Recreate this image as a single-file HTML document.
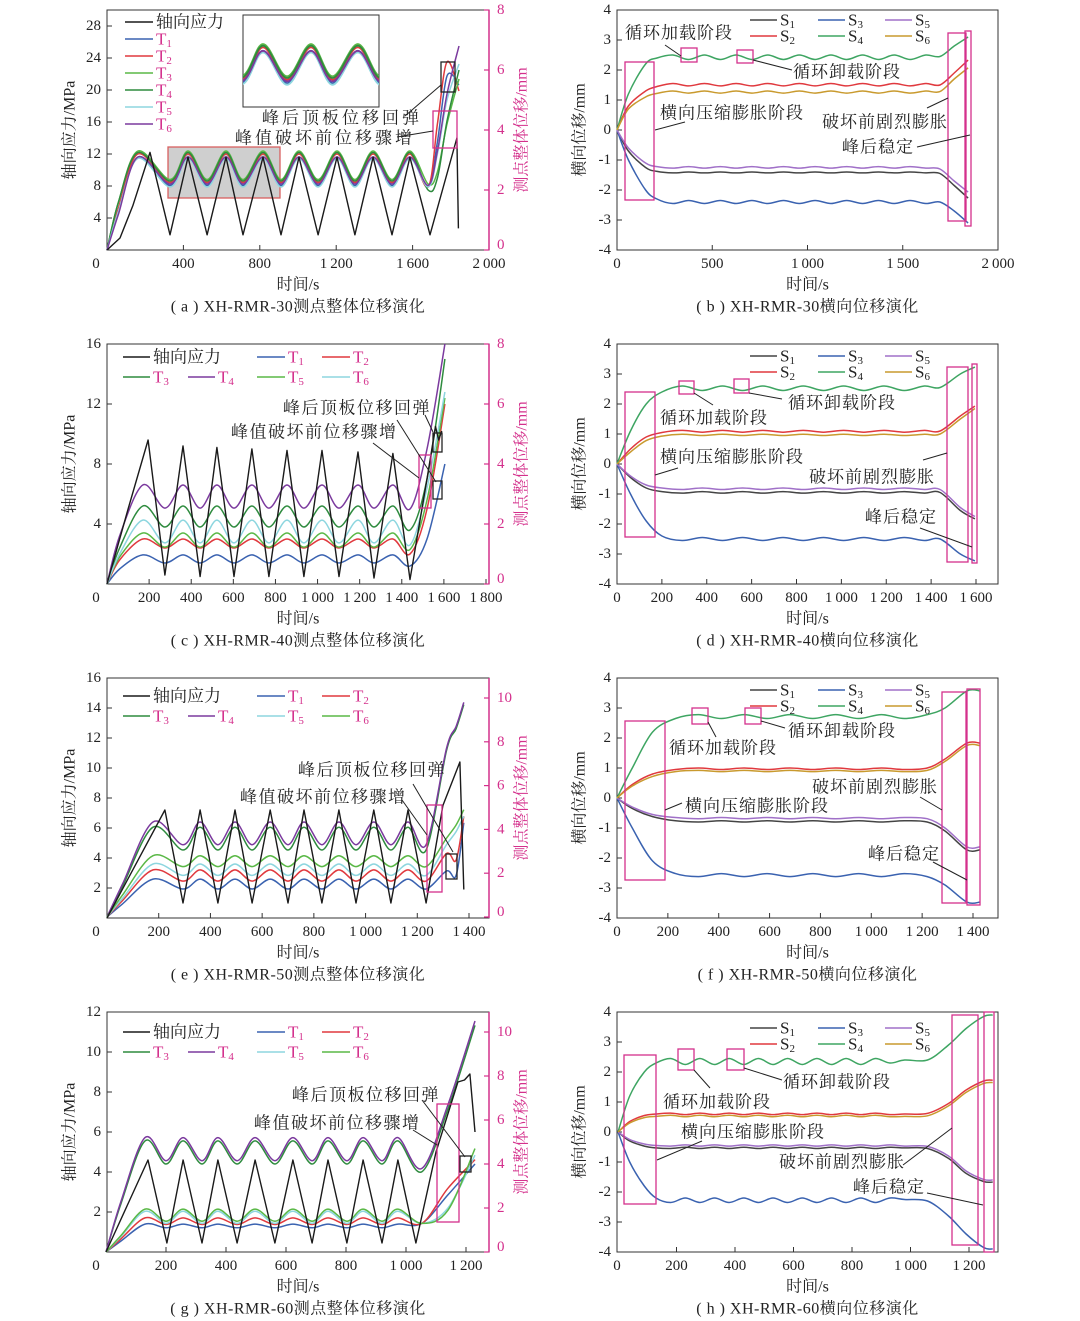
<!DOCTYPE html>
<html><head><meta charset="utf-8"><title>XH-RMR displacement evolution</title>
<style>
html,body{margin:0;padding:0;background:#fff;}
svg{display:block;font-family:"Liberation Serif","Noto Serif CJK SC",serif;}
</style></head>
<body>
<svg id="fig" width="1080" height="1321" viewBox="0 0 1080 1321" xmlns="http://www.w3.org/2000/svg">
<rect x="0" y="0" width="1080" height="1321" fill="#fff"/>
</svg>
<script>
// ---------- Panel (a) data ----------
const aStressT=[0,68,136,225,330,424,524,623,712,817,911,1005,1105,1204,1298,1393,1492,1586,1691,1832,1840];
const aStressV=[0,1.5,5.6,12.2,1.9,11.6,1.9,11.6,1.9,11.6,1.9,11.6,1.9,11.6,1.9,11.6,1.9,11.6,1.9,14,2.7];
const aDispT=[0,60,162,330,424,524,623,712,817,911,1005,1105,1204,1298,1393,1492,1586,1681,1730,1780,1843];
const aT1=[0,1.3,3.1,2.15,3.1,2.15,3.1,2.15,3.1,2.15,3.1,2.15,3.1,2.15,3.1,2.15,3.1,2.1,3.6,5.8,5.5];
const aT2=[0,1.4,3.2,2.25,3.2,2.25,3.2,2.25,3.2,2.25,3.2,2.25,3.2,2.25,3.2,2.25,3.2,2.1,4.2,6.27,5.3];
const aT3=[0,1.6,3.3,2.35,3.3,2.35,3.3,2.35,3.3,2.35,3.3,2.35,3.3,2.35,3.3,2.35,3.3,2.2,2.6,4.2,5.7];
const aT4=[0,1.6,3.25,2.3,3.25,2.3,3.25,2.3,3.25,2.3,3.25,2.3,3.25,2.3,3.25,2.3,3.25,2.0,2.4,4.3,6.0];
const aT5=[0,1.3,3.05,2.1,3.05,2.1,3.05,2.1,3.05,2.1,3.05,2.1,3.05,2.1,3.05,2.1,3.05,2.1,3.2,5.0,6.2];
const aT6=[0,1.2,3.1,2.2,3.1,2.2,3.1,2.2,3.1,2.2,3.1,2.2,3.1,2.2,3.1,2.2,3.1,2.15,3.3,5.2,6.8];
// ---------- Panel (c) data ----------
const cStressT=[0,100,195,275,361,442,522,603,688,769,855,935,1021,1102,1192,1268,1358,1439,1520,1560,1575,1590];
const cStressV=[0,5,9.6,0.6,9.2,0.5,9.1,0.5,9.0,0.5,8.9,0.5,8.9,0.5,8.8,0.4,8.7,0.3,7,10.5,9.6,10.2];
const cDispT=[0,60,170,275,361,442,522,603,688,769,855,935,1021,1102,1192,1268,1358,1439,1520,1605];
const cT1=[0,0.5,0.97,0.7,0.97,0.7,0.97,0.7,0.97,0.7,0.97,0.7,0.97,0.7,0.97,0.7,0.97,0.6,1.5,4.0];
const cT2=[0,0.8,1.5,1.2,1.5,1.2,1.5,1.2,1.5,1.2,1.5,1.2,1.5,1.2,1.5,1.2,1.5,1.0,2.5,6.0];
const cT3=[0,1.2,2.6,1.9,2.6,1.9,2.6,1.9,2.6,1.9,2.6,1.9,2.6,1.9,2.6,1.9,2.6,1.8,3.5,7.5];
const cT4=[0,1.6,3.3,2.53,3.3,2.53,3.3,2.53,3.3,2.53,3.3,2.53,3.3,2.53,3.3,2.53,3.3,2.5,4.5,8.0];
const cT5=[0,0.9,1.7,1.23,1.7,1.23,1.7,1.23,1.7,1.23,1.7,1.23,1.7,1.23,1.7,1.23,1.7,1.15,2.8,6.2];
const cT6=[0,1.0,2.13,1.37,2.13,1.37,2.13,1.37,2.13,1.37,2.13,1.37,2.13,1.37,2.13,1.37,2.13,1.3,3.2,6.4];
// ---------- Panel (e) data ----------
const eStressT=[0,224,294,360,429,495,561,631,700,762,831,897,963,1032,1098,1164,1234,1299,1365,1380];
const eStressV=[0,7.2,1.0,7.2,1.0,7.2,1.0,7.2,1.0,7.2,1.0,7.2,1.0,7.2,1.0,7.2,1.0,7.5,10.4,1.9];
const eDispT=[0,60,178,294,360,429,495,561,631,700,762,831,897,963,1032,1098,1164,1234,1313,1350,1380];
const eT1=[0,0.6,1.73,1.28,1.73,1.28,1.73,1.28,1.73,1.28,1.73,1.28,1.73,1.28,1.73,1.28,1.73,1.28,2.1,1.9,4.3];
const eT2=[0,0.75,2.15,1.64,2.15,1.64,2.15,1.64,2.15,1.64,2.15,1.64,2.15,1.64,2.15,1.64,2.15,1.64,2.9,2.6,4.6];
const eT3=[0,1.4,4.1,3.06,4.1,3.06,4.1,3.06,4.1,3.06,4.1,3.06,4.1,3.06,4.1,3.06,4.1,3.06,7.6,8.6,9.7];
const eT4=[0,1.5,4.34,3.3,4.34,3.3,4.34,3.3,4.34,3.3,4.34,3.3,4.34,3.3,4.34,3.3,4.34,3.3,7.7,8.7,9.8];
const eT5=[0,0.85,2.42,1.9,2.42,1.9,2.42,1.9,2.42,1.9,2.42,1.9,2.42,1.9,2.42,1.9,2.42,1.9,3.3,3.9,4.6];
const eT6=[0,1.0,2.8,2.3,2.8,2.3,2.8,2.3,2.8,2.3,2.8,2.3,2.8,2.3,2.8,2.3,2.8,2.3,3.6,4.2,4.9];
// ---------- Panel (g) data ----------
const gStressT=[0,140,203,257,320,373,437,497,563,623,687,740,803,857,920,973,1033,1100,1173,1195,1213,1230];
const gStressV=[0,4.6,0.45,4.6,0.45,4.6,0.45,4.6,0.45,4.6,0.45,4.6,0.45,4.6,0.45,4.6,0.45,5.0,8.5,8.6,8.9,6.0];
const gDispT=[0,50,130,200,257,320,373,437,497,563,623,687,740,803,857,920,973,1053,1140,1230];
const gT1=[0,0.5,1.27,1.1,1.27,1.1,1.27,1.1,1.27,1.1,1.27,1.1,1.27,1.1,1.27,1.1,1.27,1.3,2.6,4.0];
const gT2=[0,0.6,1.55,1.25,1.55,1.25,1.55,1.25,1.55,1.25,1.55,1.25,1.55,1.25,1.55,1.25,1.55,1.3,2.9,4.2];
const gT3=[0,2.2,5.05,4.0,5.05,4.0,5.05,4.0,5.05,4.0,5.05,4.0,5.05,4.0,5.05,4.0,5.05,3.65,6.5,10.3];
const gT4=[0,2.3,5.2,4.15,5.2,4.15,5.2,4.15,5.2,4.15,5.2,4.15,5.2,4.15,5.2,4.15,5.2,3.8,6.7,10.5];
const gT5=[0,0.7,1.85,1.3,1.85,1.3,1.85,1.3,1.85,1.3,1.85,1.3,1.85,1.3,1.85,1.3,1.85,1.3,2.0,4.4];
const gT6=[0,0.75,1.95,1.4,1.95,1.4,1.95,1.4,1.95,1.4,1.95,1.4,1.95,1.4,1.95,1.4,1.95,1.3,1.9,4.7];
// ---------- Panel (b) data ----------
const bT=[0,60,150,210,293,376,459,542,625,708,791,874,957,1040,1123,1206,1289,1372,1455,1538,1621,1695,1770,1843];
const bS1=[0,-0.7,-1.25,-1.38,-1.43,-1.4,-1.43,-1.4,-1.43,-1.4,-1.43,-1.4,-1.43,-1.4,-1.43,-1.4,-1.43,-1.4,-1.43,-1.4,-1.43,-1.45,-1.85,-2.27];
const bS2=[0,0.8,1.3,1.45,1.55,1.47,1.55,1.47,1.55,1.47,1.55,1.47,1.55,1.47,1.55,1.47,1.55,1.47,1.55,1.47,1.55,1.5,1.9,2.33];
const bS3=[0,-1.0,-2.0,-2.3,-2.45,-2.35,-2.45,-2.35,-2.45,-2.35,-2.45,-2.35,-2.45,-2.35,-2.45,-2.35,-2.45,-2.35,-2.45,-2.35,-2.45,-2.4,-2.7,-3.1];
const bS4=[0,1.2,2.2,2.4,2.5,2.35,2.5,2.35,2.5,2.35,2.5,2.35,2.5,2.35,2.5,2.35,2.5,2.35,2.5,2.35,2.5,2.45,2.8,3.1];
const bS5=[0,-0.6,-1.1,-1.22,-1.27,-1.22,-1.27,-1.22,-1.27,-1.22,-1.27,-1.22,-1.27,-1.22,-1.27,-1.22,-1.27,-1.22,-1.27,-1.22,-1.27,-1.3,-1.7,-2.07];
const bS6=[0,0.7,1.1,1.22,1.3,1.23,1.3,1.23,1.3,1.23,1.3,1.23,1.3,1.23,1.3,1.23,1.3,1.23,1.3,1.23,1.3,1.28,1.7,2.07];
// ---------- Panel (d) data ----------
const dT=[0,60,130,200,290,380,470,560,650,740,830,920,1010,1100,1190,1280,1370,1440,1530,1595];
const dS1=[0,-0.45,-0.8,-0.92,-0.97,-0.92,-0.97,-0.92,-0.97,-0.92,-0.97,-0.92,-0.97,-0.92,-0.97,-0.92,-0.97,-0.95,-1.55,-1.83];
const dS2=[0,0.5,0.9,1.05,1.12,1.06,1.12,1.06,1.12,1.06,1.12,1.06,1.12,1.06,1.12,1.06,1.12,1.1,1.6,1.93];
const dS3=[0,-1.0,-1.9,-2.4,-2.55,-2.45,-2.55,-2.45,-2.55,-2.45,-2.55,-2.45,-2.55,-2.45,-2.55,-2.45,-2.55,-2.5,-3.0,-3.23];
const dS4=[0,1.1,2.0,2.4,2.6,2.45,2.6,2.45,2.6,2.45,2.6,2.45,2.6,2.45,2.6,2.45,2.6,2.55,3.0,3.23];
const dS5=[0,-0.4,-0.7,-0.8,-0.85,-0.8,-0.85,-0.8,-0.85,-0.8,-0.85,-0.8,-0.85,-0.8,-0.85,-0.8,-0.85,-0.85,-1.45,-1.75];
const dS6=[0,0.4,0.78,0.93,0.99,0.95,0.99,0.95,0.99,0.95,0.99,0.95,0.99,0.95,0.99,0.95,0.99,1.0,1.5,1.85];
// ---------- Panel (f) data ----------
const fT=[0,60,140,230,320,410,500,590,680,770,860,950,1040,1130,1220,1290,1376,1427];
const fS1=[0,-0.35,-0.62,-0.76,-0.8,-0.76,-0.8,-0.76,-0.8,-0.76,-0.8,-0.76,-0.8,-0.76,-0.8,-1.1,-1.73,-1.73];
const fS2=[0,0.45,0.8,0.95,1.0,0.95,1.0,0.95,1.0,0.95,1.0,0.95,1.0,0.95,1.0,1.3,1.83,1.83];
const fS3=[0,-1.0,-2.1,-2.52,-2.62,-2.52,-2.62,-2.52,-2.62,-2.52,-2.62,-2.52,-2.62,-2.52,-2.62,-2.9,-3.47,-3.47];
const fS4=[0,1.0,2.2,2.65,2.78,2.65,2.78,2.65,2.78,2.65,2.78,2.65,2.78,2.65,2.78,3.0,3.57,3.57];
const fS5=[0,-0.3,-0.55,-0.65,-0.69,-0.65,-0.69,-0.65,-0.69,-0.65,-0.69,-0.65,-0.69,-0.65,-0.69,-1.0,-1.63,-1.63];
const fS6=[0,0.4,0.72,0.88,0.92,0.88,0.92,0.88,0.92,0.88,0.92,0.88,0.92,0.88,0.92,1.22,1.75,1.75];
// ---------- Panel (h) data ----------
const hT=[0,40,90,130,180,230,280,330,380,430,480,530,580,630,680,730,780,830,880,930,980,1058,1130,1190,1250,1281];
const hS1=[0,-0.3,-0.47,-0.53,-0.55,-0.51,-0.55,-0.51,-0.55,-0.51,-0.55,-0.51,-0.55,-0.51,-0.55,-0.51,-0.55,-0.51,-0.55,-0.51,-0.53,-0.55,-0.88,-1.38,-1.65,-1.67];
const hS2=[0,0.35,0.55,0.6,0.63,0.58,0.63,0.58,0.63,0.58,0.63,0.58,0.63,0.58,0.63,0.58,0.63,0.58,0.63,0.58,0.6,0.62,0.95,1.4,1.7,1.73];
const hS3=[0,-1.0,-1.8,-2.2,-2.35,-2.2,-2.35,-2.2,-2.35,-2.2,-2.35,-2.2,-2.35,-2.2,-2.35,-2.2,-2.35,-2.2,-2.35,-2.2,-2.25,-2.3,-2.8,-3.4,-3.85,-3.9];
const hS4=[0,1.2,2.0,2.3,2.45,2.25,2.45,2.25,2.45,2.25,2.45,2.25,2.45,2.25,2.45,2.25,2.45,2.25,2.45,2.3,2.4,2.4,2.9,3.45,3.85,3.9];
const hS5=[0,-0.25,-0.4,-0.45,-0.47,-0.43,-0.47,-0.43,-0.47,-0.43,-0.47,-0.43,-0.47,-0.43,-0.47,-0.43,-0.47,-0.43,-0.47,-0.43,-0.47,-0.48,-0.8,-1.3,-1.58,-1.6];
const hS6=[0,0.3,0.48,0.52,0.56,0.51,0.56,0.51,0.56,0.51,0.56,0.51,0.56,0.51,0.56,0.51,0.56,0.51,0.56,0.51,0.52,0.54,0.87,1.32,1.62,1.65];
// ---------- Tick labels ----------
const aXTicks=[400,800,1200,1600,2000];
const cXTicks=[200,400,600,800,1000,1200,1400,1600,1800];
const eXTicks=[200,400,600,800,1000,1200,1400];
const gXTicks=[200,400,600,800,1000,1200];
const bXTicks=[500,1000,1500,2000];
const dXTicks=[200,400,600,800,1000,1200,1400,1600];
const fXTicks=[200,400,600,800,1000,1200,1400];
const hXTicks=[200,400,600,800,1000,1200];
const aYTicks=[4,8,12,16,20,24,28];
const cYTicks=[4,8,12,16];
const eYTicks=[2,4,6,8,10,12,14,16];
const gYTicks=[2,4,6,8,10,12];
const rYTicks8=[0,2,4,6,8];
const rYTicks10=[0,2,4,6,8,10];
const sYTicks=[-4,-3,-2,-1,0,1,2,3,4];

const NS='http://www.w3.org/2000/svg';
const svg=document.getElementById('fig');
const MAG='#d4308c';
const COL={blue:'#3a62b0',red:'#e0393e',lg:'#5ab846',dg:'#2e8b3e',cyan:'#8dd6df',purple:'#7b3a9e',olive:'#c99a2e',gray:'#444',sgreen:'#3ea562',spurple:'#a070c8',black:'#1a1a1a'};
function mk(tag,parent){const e=document.createElementNS(NS,tag);parent.appendChild(e);return e;}
function lin(d0,d1,r0,r1){return v=>r0+(v-d0)*(r1-r0)/(d1-d0);}
function fmt(n){const s=String(Math.abs(n));const t=s.length>3?s.slice(0,s.length-3)+'\u2009'+s.slice(-3):s;return (n<0?'-':'')+t;}
function linePath(xs,ys){return xs.map((x,i)=>(i?'L':'M')+x.toFixed(1)+' '+ys[i].toFixed(1)).join(' ');}
function smoothPath(xs,ys){
  let d='M'+xs[0].toFixed(1)+' '+ys[0].toFixed(1);
  for(let i=0;i<xs.length-1;i++){
    const x0=xs[Math.max(0,i-1)],y0=ys[Math.max(0,i-1)],x1=xs[i],y1=ys[i],x2=xs[i+1],y2=ys[i+1],x3=xs[Math.min(xs.length-1,i+2)],y3=ys[Math.min(xs.length-1,i+2)];
    const c1x=x1+(x2-x0)/6,c1y=y1+(y2-y0)/6,c2x=x2-(x3-x1)/6,c2y=y2-(y3-y1)/6;
    d+=' C'+c1x.toFixed(1)+' '+c1y.toFixed(1)+' '+c2x.toFixed(1)+' '+c2y.toFixed(1)+' '+x2.toFixed(1)+' '+y2.toFixed(1);
  }
  return d;
}
function txt(parent,x,y,s,size,anchor,fill){const t=mk('text',parent);t.setAttribute('x',x);t.setAttribute('y',y);t.setAttribute('font-size',size);t.setAttribute('text-anchor',anchor||'start');t.setAttribute('dominant-baseline','central');t.setAttribute('fill',fill||'#222');t.textContent=s;return t;}
function ln(parent,x1,y1,x2,y2,stroke,w){const l=mk('line',parent);l.setAttribute('x1',x1);l.setAttribute('y1',y1);l.setAttribute('x2',x2);l.setAttribute('y2',y2);l.setAttribute('stroke',stroke||'#333');l.setAttribute('stroke-width',w||1);return l;}
function box(parent,x1,y1,x2,y2,stroke){const r=mk('rect',parent);r.setAttribute('x',x1);r.setAttribute('y',y1);r.setAttribute('width',x2-x1);r.setAttribute('height',y2-y1);r.setAttribute('fill','none');r.setAttribute('stroke',stroke);r.setAttribute('stroke-width',1.3);return r;}

function drawSeries(g,ts,vs,xs,ys,color,smooth,name,w){
  const px=ts.map(xs),py=vs.map(ys);
  const p=mk('path',g);
  
  
  p.setAttribute('d',smooth?smoothPath(px,py):linePath(px,py));
  p.setAttribute('fill','none');p.setAttribute('stroke',color);p.setAttribute('stroke-width',w||1.5);p.setAttribute('stroke-linejoin','round');
  return p;
}

function axes(P){
  const g=mk('g',svg);
  
  
  const fr=box(g,P.x0,P.y0,P.x1,P.y1,'#333');fr.setAttribute('stroke-width',1);
  
  
  P.xt.forEach(v=>{const x=P.xs(v);ln(g,x,P.y1,x,P.y1-5);
    const t=txt(g,x,P.y1+14,fmt(v),15,'middle');
    
    });
  P.yt.forEach(v=>{const y=P.ys(v);ln(g,P.x0,y,P.x0+5,y);
    if(P.left && v===0) return;
    const t=txt(g,P.x0-6,y,fmt(v).replace('-','-'),15,'end');
    
    });
  const z=txt(g,P.left?P.x0-11:P.x0,P.y1+14,'0',15,'middle');
  
  
  if(P.rs){
    ln(g,P.x1,P.y0,P.x1,P.y1,MAG,1.5);
    P.rt.forEach(v=>{const y=P.rs(v);ln(g,P.x1-5,y,P.x1,y,MAG,1.2);
      const t=txt(g,P.x1+8,v===0?y-5:y,String(v),15,'start',MAG);
      
      });
    const rt=txt(g,0,0,'测点整体位移/mm',16,'middle',MAG);
    rt.setAttribute('transform','translate('+(P.x1+33)+','+((P.y0+P.y1)/2)+') rotate(-90)');
    
    
  }
  const yt=txt(g,0,0,P.ytitle,16,'middle');
  yt.setAttribute('transform','translate('+(P.x0-37)+','+((P.y0+P.y1)/2)+') rotate(-90)');
  
  
  const xt=txt(g,(P.x0+P.x1)/2,P.y1+35,'时间/s',16,'middle');
  
  
  const cap=txt(g,(P.x0+P.x1)/2,P.y1+57,P.caption,16,'middle');
  
  
  cap.setAttribute('letter-spacing','0.5');
  return g;
}

function legendEntry(g,x1,x2,y,color,label,sub,labelColor){
  const l=ln(g,x1,y,x2,y,color,1.6);
  
  
  const t=mk('text',g);t.setAttribute('x',x2+3);t.setAttribute('y',y);t.setAttribute('dominant-baseline','central');t.setAttribute('font-size',17);t.setAttribute('fill',labelColor);
  
  
  t.textContent=label;
  if(sub){const s=mk('tspan',t);s.setAttribute('font-size',11);s.setAttribute('dy',5);s.textContent=sub;}
}

function annotations(g,items){
  items.forEach(it=>{
    if(it.t==='text'){const t=txt(g,it.x,it.y,it.s,it.size||17,'start','#222');t.setAttribute('letter-spacing',it.ls||1);
      
      }
    else if(it.t==='box'){const b=box(g,it.x1,it.y1,it.x2,it.y2,it.c||MAG);
      
      }
    else if(it.t==='lead'){const l=ln(g,it.x1,it.y1,it.x2,it.y2,'#222',1);
      
      }
  });
}

// ================= LEFT PANELS =================
function leftPanel(id,y0,y1,xs,ys,rs,xt,yt,rt,caption,stressT,stressV,dispT,series,legendType,ann,extra){
  const P={id,x0:107,x1:489,y0,y1,xs,ys,rs,xt,yt,rt,left:true,ytitle:'轴向应力/MPa',caption};
  axes(P);
  const g=mk('g',svg);
  
  
  if(extra) extra(g);
  series.forEach(s=>drawSeries(g,dispT,s.v,xs,rs,s.c,true,'displacement-'+s.n));
  drawSeries(g,stressT,stressV,xs,ys,COL.black,false,'axial-stress-line',1.4);
  const lg=mk('g',svg);
  
  
  if(legendType==='vertical'){
    legendEntry(lg,125,153,22,COL.black,'轴向应力','', '#222');
    const ys2=[39,56,73,90,107,124];
    series.forEach((s,i)=>legendEntry(lg,125,153,ys2[i],s.c,'T',String(i+1),MAG));
  } else {
    const r1=legendType, r2=legendType+20;
    legendEntry(lg,123,150,r1,COL.black,'轴向应力','','#222');
    legendEntry(lg,257,285,r1,series[0].c,'T','1',MAG);
    legendEntry(lg,322,350,r1,series[1].c,'T','2',MAG);
    legendEntry(lg,123,150,r2,series[2].c,'T','3',MAG);
    legendEntry(lg,188,215,r2,series[3].c,'T','4',MAG);
    legendEntry(lg,257,285,r2,series[4].c,'T','5',MAG);
    legendEntry(lg,322,350,r2,series[5].c,'T','6',MAG);
  }
  const ag=mk('g',svg);
  
  
  annotations(ag,ann);
  return g;
}

// (a)
const axsA=lin(0,2000,107,489), aysL=lin(0,28,250,26), aysR=lin(0,8,250,10);
const aSeries=[{n:'T1',c:COL.blue,v:aT1},{n:'T2',c:COL.red,v:aT2},{n:'T3',c:COL.lg,v:aT3},{n:'T4',c:COL.dg,v:aT4},{n:'T5',c:COL.cyan,v:aT5},{n:'T6',c:COL.purple,v:aT6}];
leftPanel('panel-a',10,250,axsA,aysL,aysR,aXTicks,aYTicks,rYTicks8,'( a ) XH-RMR-30测点整体位移演化',aStressT,aStressV,aDispT,aSeries,'vertical',[
 {t:'box',x1:441,y1:62,x2:455,y2:92,c:'#222'},
 {t:'box',x1:433,y1:111,x2:457,y2:148},
 {t:'text',x:262,y:118,s:'峰后顶板位移回弹',size:17,ls:3},
 {t:'text',x:235,y:138,s:'峰值破坏前位移骤增',size:17,ls:3},
 {t:'lead',x1:405,y1:116,x2:441,y2:85},
 {t:'lead',x1:397,y1:137,x2:433,y2:131}
],g=>{
  const r=mk('rect',g);r.setAttribute('x',168);r.setAttribute('y',147);r.setAttribute('width',112);r.setAttribute('height',51);r.setAttribute('fill','#cfcfcf');r.setAttribute('stroke','#d86060');r.setAttribute('stroke-width',1.3);
  
  
});
// inset for (a)
(function(){
  const ig=mk('g',svg);
  
  
  const fr=mk('rect',ig);fr.setAttribute('x',243);fr.setAttribute('y',15);fr.setAttribute('width',136);fr.setAttribute('height',92);fr.setAttribute('fill','#fff');fr.setAttribute('stroke','#333');fr.setAttribute('stroke-width',1);
  const cp=mk('clipPath',ig);cp.setAttribute('id','insetclip');const cr=mk('rect',cp);cr.setAttribute('x',243);cr.setAttribute('y',15);cr.setAttribute('width',136);cr.setAttribute('height',92);
  const cg=mk('g',ig);cg.setAttribute('clip-path','url(#insetclip)');
  const ixs=lin(424,623,263,311), iys=lin(2.3,3.3,78,44);
  aSeries.forEach(s=>drawSeries(cg,aDispT.slice(2,12),s.v.slice(2,12),ixs,iys,s.c,true,'inset-'+s.n,1.8));
})();

// (c)
const cxs=lin(0,1800,107,486), cysL=lin(0,16,584,344), cysR=lin(0,8,584,344);
leftPanel('panel-c',344,584,cxs,cysL,cysR,cXTicks,cYTicks,rYTicks8,'( c ) XH-RMR-40测点整体位移演化',cStressT,cStressV,cDispT,
 [{n:'T1',c:COL.blue,v:cT1},{n:'T2',c:COL.red,v:cT2},{n:'T3',c:COL.dg,v:cT3},{n:'T4',c:COL.purple,v:cT4},{n:'T5',c:COL.lg,v:cT5},{n:'T6',c:COL.cyan,v:cT6}],357,[
 {t:'box',x1:419,y1:455,x2:431,y2:508},
 {t:'box',x1:433,y1:433,x2:442,y2:452,c:'#222'},
 {t:'box',x1:433,y1:481,x2:442,y2:499,c:'#222'},
 {t:'text',x:283,y:408,s:'峰后顶板位移回弹',size:17,ls:1.5},
 {t:'text',x:231,y:432,s:'峰值破坏前位移骤增',size:17,ls:1.5},
 {t:'lead',x1:373,y1:443,x2:419,y2:478},
 {t:'lead',x1:397,y1:420,x2:436,y2:482},
 {t:'lead',x1:425,y1:415,x2:433,y2:432}
]);

// (e)
const exs=lin(0,1400,107,469), eysL=lin(0,16,918,678), eysR=lin(0,10,917,698);
leftPanel('panel-e',678,918,exs,eysL,eysR,eXTicks,eYTicks,rYTicks10,'( e ) XH-RMR-50测点整体位移演化',eStressT,eStressV,eDispT,
 [{n:'T1',c:COL.blue,v:eT1},{n:'T2',c:COL.red,v:eT2},{n:'T3',c:COL.dg,v:eT3},{n:'T4',c:COL.purple,v:eT4},{n:'T5',c:COL.cyan,v:eT5},{n:'T6',c:COL.lg,v:eT6}],696,[
 {t:'box',x1:427,y1:805,x2:442,y2:892},
 {t:'box',x1:446,y1:854,x2:457,y2:879,c:'#222'},
 {t:'text',x:298,y:770,s:'峰后顶板位移回弹',size:17,ls:1.5},
 {t:'text',x:240,y:797,s:'峰值破坏前位移骤增',size:17,ls:1.5},
 {t:'lead',x1:402,y1:800,x2:427,y2:835},
 {t:'lead',x1:413,y1:784,x2:453,y2:852}
]);

// (g)
const gxs=lin(0,1200,106,466), gysL=lin(0,12,1252,1012), gysR=lin(0,10,1252,1032);
leftPanel('panel-g',1012,1252,gxs,gysL,gysR,gXTicks,gYTicks,rYTicks10,'( g ) XH-RMR-60测点整体位移演化',gStressT,gStressV,gDispT,
 [{n:'T1',c:COL.blue,v:gT1},{n:'T2',c:COL.red,v:gT2},{n:'T3',c:COL.dg,v:gT3},{n:'T4',c:COL.purple,v:gT4},{n:'T5',c:COL.cyan,v:gT5},{n:'T6',c:COL.lg,v:gT6}],1032,[
 {t:'box',x1:437,y1:1104,x2:459,y2:1222},
 {t:'box',x1:460,y1:1156,x2:471,y2:1172,c:'#222'},
 {t:'text',x:292,y:1095,s:'峰后顶板位移回弹',size:17,ls:1.5},
 {t:'text',x:254,y:1123,s:'峰值破坏前位移骤增',size:17,ls:1.5},
 {t:'lead',x1:413,y1:1130,x2:437,y2:1145},
 {t:'lead',x1:422,y1:1100,x2:465,y2:1157}
]);

// ================= RIGHT PANELS =================
function rightPanel(id,y0,y1,xs,xt,caption,T,S,legY,ann){
  const ys=lin(-4,4,y1,y0);
  const P={id,x0:617,x1:998,y0,y1,xs,ys,rs:null,xt,yt:sYTicks,left:false,ytitle:'横向位移/mm',caption};
  axes(P);
  const g=mk('g',svg);
  
  
  const cols=[COL.gray,COL.red,COL.blue,COL.sgreen,COL.spurple,COL.olive];
  S.forEach((v,i)=>drawSeries(g,T,v,xs,ys,cols[i],true,'lateral-S'+(i+1),1.5));
  const lg=mk('g',svg);
  
  
  const lx=[[750,777],[818,845],[885,912]];
  [0,2,4].forEach((k,j)=>legendEntry(lg,lx[j][0],lx[j][1],legY,cols[k],'S',String(k+1),'#222'));
  [1,3,5].forEach((k,j)=>legendEntry(lg,lx[j][0],lx[j][1],legY+16,cols[k],'S',String(k+1),'#222'));
  const ag=mk('g',svg);
  
  
  annotations(ag,ann);
}
rightPanel('panel-b',10,250,lin(0,2000,617,998),bXTicks,'( b ) XH-RMR-30横向位移演化',bT,[bS1,bS2,bS3,bS4,bS5,bS6],20,[
 {t:'box',x1:625,y1:62,x2:654,y2:200},{t:'box',x1:681,y1:48,x2:697,y2:62},{t:'box',x1:737,y1:50,x2:753,y2:63},
 {t:'box',x1:948,y1:33,x2:966,y2:221},{t:'box',x1:965,y1:31,x2:971,y2:226},
 {t:'text',x:625,y:33,s:'循环加载阶段'},{t:'text',x:793,y:72,s:'循环卸载阶段'},{t:'text',x:660,y:113,s:'横向压缩膨胀阶段'},
 {t:'text',x:822,y:122,s:'破坏前剧烈膨胀'},{t:'text',x:842,y:147,s:'峰后稳定'},
 {t:'lead',x1:665,y1:45,x2:681,y2:56},{t:'lead',x1:753,y1:60,x2:792,y2:70},{t:'lead',x1:655,y1:130,x2:685,y2:122},
 {t:'lead',x1:927,y1:108,x2:948,y2:98},{t:'lead',x1:917,y1:147,x2:970,y2:135}
]);
rightPanel('panel-d',344,584,lin(0,1600,617,976),dXTicks,'( d ) XH-RMR-40横向位移演化',dT,[dS1,dS2,dS3,dS4,dS5,dS6],356,[
 {t:'box',x1:625,y1:392,x2:655,y2:537},{t:'box',x1:679,y1:381,x2:694,y2:394},{t:'box',x1:734,y1:379,x2:749,y2:393},
 {t:'box',x1:947,y1:367,x2:968,y2:562},{t:'box',x1:972,y1:364,x2:977,y2:563},
 {t:'text',x:788,y:403,s:'循环卸载阶段'},{t:'text',x:660,y:418,s:'循环加载阶段'},{t:'text',x:660,y:457,s:'横向压缩膨胀阶段'},
 {t:'text',x:809,y:477,s:'破坏前剧烈膨胀'},{t:'text',x:865,y:517,s:'峰后稳定'},
 {t:'lead',x1:694,y1:393,x2:713,y2:405},{t:'lead',x1:749,y1:393,x2:782,y2:399},{t:'lead',x1:655,y1:475,x2:678,y2:468},
 {t:'lead',x1:923,y1:460,x2:947,y2:453},{t:'lead',x1:920,y1:528,x2:972,y2:547}
]);
rightPanel('panel-f',678,918,lin(0,1400,617,973),fXTicks,'( f ) XH-RMR-50横向位移演化',fT,[fS1,fS2,fS3,fS4,fS5,fS6],690,[
 {t:'box',x1:625,y1:721,x2:665,y2:880},{t:'box',x1:692,y1:708,x2:708,y2:724},{t:'box',x1:745,y1:708,x2:761,y2:724},
 {t:'box',x1:942,y1:692,x2:966,y2:903},{t:'box',x1:967,y1:689,x2:980,y2:905},
 {t:'text',x:788,y:731,s:'循环卸载阶段'},{t:'text',x:669,y:748,s:'循环加载阶段'},{t:'text',x:812,y:787,s:'破坏前剧烈膨胀'},
 {t:'text',x:685,y:806,s:'横向压缩膨胀阶段'},{t:'text',x:868,y:854,s:'峰后稳定'},
 {t:'lead',x1:708,y1:722,x2:716,y2:737},{t:'lead',x1:761,y1:721,x2:785,y2:728},{t:'lead',x1:665,y1:810,x2:682,y2:803},
 {t:'lead',x1:920,y1:797,x2:942,y2:810},{t:'lead',x1:933,y1:862,x2:967,y2:880}
]);
rightPanel('panel-h',1012,1252,lin(0,1200,618,969),hXTicks,'( h ) XH-RMR-60横向位移演化',hT,[hS1,hS2,hS3,hS4,hS5,hS6],1028,[
 {t:'box',x1:624,y1:1055,x2:656,y2:1204},{t:'box',x1:678,y1:1049,x2:694,y2:1070},{t:'box',x1:727,y1:1049,x2:744,y2:1070},
 {t:'box',x1:952,y1:1015,x2:978,y2:1245},{t:'box',x1:984,y1:1012,x2:994,y2:1252},
 {t:'text',x:783,y:1082,s:'循环卸载阶段'},{t:'text',x:663,y:1102,s:'循环加载阶段'},{t:'text',x:681,y:1132,s:'横向压缩膨胀阶段'},
 {t:'text',x:779,y:1162,s:'破坏前剧烈膨胀'},{t:'text',x:853,y:1187,s:'峰后稳定'},
 {t:'lead',x1:694,y1:1070,x2:710,y2:1088},{t:'lead',x1:744,y1:1068,x2:782,y2:1080},{t:'lead',x1:657,y1:1160,x2:702,y2:1141},
 {t:'lead',x1:903,y1:1165,x2:952,y2:1128},{t:'lead',x1:927,y1:1193,x2:983,y2:1205}
]);
</script>
</body></html>
